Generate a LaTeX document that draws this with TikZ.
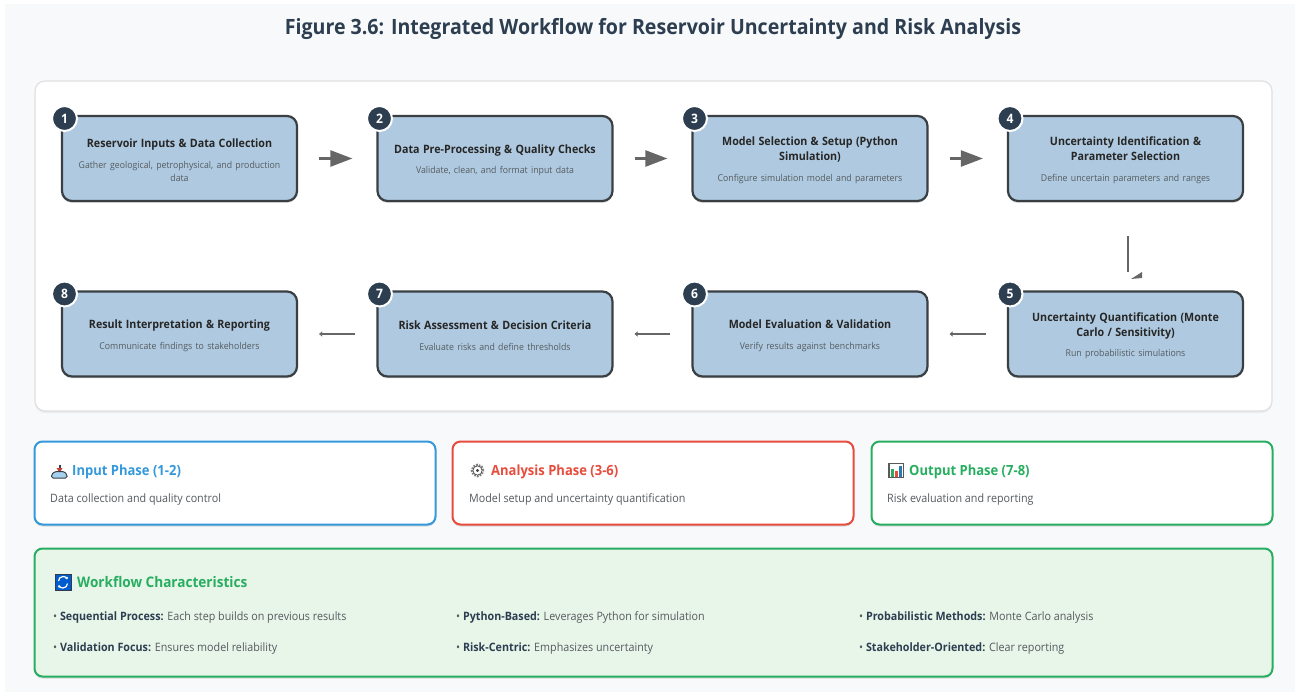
\documentclass[tikz,border=0pt]{standalone}
\usepackage{fontspec}
\usepackage{tikz}
\usetikzlibrary{arrows.meta,shadows}
\setmainfont{Open Sans}[FakeStretch=0.93]

\definecolor{pagebg}{HTML}{F8F9FB}
\definecolor{navy}{HTML}{2C3E50}
\definecolor{stepblue}{HTML}{AFCAE0}
\definecolor{stepline}{HTML}{3A3F44}
\definecolor{arrowgray}{HTML}{666666}
\definecolor{descgray}{HTML}{555B60}
\definecolor{inblue}{HTML}{3498DB}
\definecolor{anred}{HTML}{E74C3C}
\definecolor{outgreen}{HTML}{27AE60}
\definecolor{charbg}{HTML}{E8F5E9}

\newcommand{\steptext}[2]{\rule{0pt}{12pt}{\fontsize{11.5}{15}\selectfont\bfseries #1}\\[8.5pt]{\fontsize{9.4}{13}\selectfont\color{descgray} #2}}

\begin{document}
\begin{tikzpicture}[x=1pt,y=-1pt,
  softshadow/.style={general shadow={shadow yshift=-2pt,fill=black,opacity=0.12}},
  stepbox/.style={draw=stepline,line width=2.2pt,fill=stepblue,rounded corners=10pt,minimum width=235pt,minimum height=85pt,text width=222pt,align=center,inner sep=0pt,text=black!85,softshadow},
  badge/.style={circle,draw=white,line width=2pt,fill=navy,text=white,minimum size=25pt,inner sep=0pt,font=\fontsize{13}{13}\selectfont\bfseries},
  nextarrow/.style={draw=arrowgray,line width=2.4pt,-{Triangle[length=22pt,width=16pt]}},
  backarrow/.style={draw=arrowgray,line width=2.6pt,-{Triangle[length=3pt,width=5pt]}},
  phasebox/.style={draw=#1,line width=2pt,fill=white,rounded corners=8pt,minimum width=401pt,minimum height=83pt,inner sep=0pt,softshadow},
  phasetitle/.style={text=#1,anchor=base west,inner sep=0pt,font=\fontsize{14}{15}\selectfont\bfseries},
  phasedesc/.style={text=descgray,anchor=base west,inner sep=0pt,font=\fontsize{11.55}{13}\selectfont},
  charitem/.style={text=descgray,anchor=base west,inner sep=0pt,font=\fontsize{11.55}{13}\selectfont}]

\useasboundingbox (0,0) rectangle (1301,692);
\fill[white] (0,0) rectangle (1301,692);
\fill[pagebg] (5,4) rectangle (1295,692);

\node (title) at (653,29) {\fontsize{21.07}{24}\selectfont\bfseries\color{navy} Figure 3.6: Integrated Workflow for Reservoir Uncertainty and Risk Analysis};

\node (panel) at (653.5,246) [draw=black!12,line width=1.2pt,fill=white,rounded corners=10pt,minimum width=1237pt,minimum height=330pt,inner sep=0pt,general shadow={shadow yshift=-2pt,fill=black,opacity=0.05}] {};

\node (s1) at (179.5,158.5) [stepbox] {\steptext{Reservoir Inputs \& Data Collection}{Gather geological, petrophysical, and production\\[1pt]data}};
\node (s2) at (495,158.5) [stepbox] {\steptext{Data Pre-Processing \& Quality Checks}{Validate, clean, and format input data}};
\node (s3) at (810,158.5) [stepbox] {\steptext{Model Selection \& Setup (Python\\[3pt]Simulation)}{Configure simulation model and parameters}};
\node (s4) at (1125.5,158.5) [stepbox] {\steptext{Uncertainty Identification \&\\[3pt]Parameter Selection}{Define uncertain parameters and ranges}};
\node (s5) at (1125.5,334) [stepbox] {\steptext{Uncertainty Quantification (Monte\\[3pt]Carlo / Sensitivity)}{Run probabilistic simulations}};
\node (s6) at (810,334) [stepbox] {\steptext{Model Evaluation \& Validation}{Verify results against benchmarks}};
\node (s7) at (495,334) [stepbox] {\steptext{Risk Assessment \& Decision Criteria}{Evaluate risks and define thresholds}};
\node (s8) at (179.5,334) [stepbox] {\steptext{Result Interpretation \& Reporting}{Communicate findings to stakeholders}};

\node (b1) at (64.5,118.5) [badge] {1};
\node (b2) at (379.5,118.5) [badge] {2};
\node (b3) at (694.5,118.5) [badge] {3};
\node (b4) at (1010,118.5) [badge] {4};
\node (b5) at (1010,294) [badge] {5};
\node (b6) at (694.5,294) [badge] {6};
\node (b7) at (379.5,294) [badge] {7};
\node (b8) at (64.5,294) [badge] {8};

\draw[nextarrow,shorten <=21pt,shorten >=24pt] (s1) -- (s2);
\draw[nextarrow,shorten <=21pt,shorten >=24pt] (s2) -- (s3);
\draw[nextarrow,shorten <=21pt,shorten >=24pt] (s3) -- (s4);
\draw[arrowgray,line width=2.4pt,shorten <=34pt,shorten >=18pt] ([xshift=2.5pt]s4.south) -- ([xshift=2.5pt]s5.north);
\fill[arrowgray] (1142,272) -- (1142,278) -- (1131,279) -- cycle;
\draw[backarrow,shorten <=21pt,shorten >=21pt] (s5) -- (s6);
\draw[backarrow,shorten <=21pt,shorten >=21pt] (s6) -- (s7);
\draw[backarrow,shorten <=21pt,shorten >=21pt] (s7) -- (s8);

\node (inbox) at (235,483) [phasebox=inblue] {};
\node (anbox) at (653,483) [phasebox=anred] {};
\node (outbox) at (1072,483) [phasebox=outgreen] {};

\fill[stepline] (58.5,464.5) rectangle (60.5,471);
\fill[anred!85!black] (56.5,468) -- (62.5,468) -- (59.5,473) -- cycle;
\draw[stepline,line width=1pt,fill=inblue!45,rounded corners=1.5pt] (51.5,478) -- (51.5,474.5) -- (55,471.5) -- (64,471.5) -- (67,474.5) -- (67,478) -- cycle;

\draw[gray,line width=2.5pt,dash pattern=on 1.6pt off 1.2pt] (477.5,470.5) circle (5.6pt);
\draw[black!70,line width=0.7pt,fill=white] (477.5,470.5) circle (4.6pt);
\fill[black!75] (477.5,470.5) circle (1.6pt);

\draw[black!65,line width=1.2pt,fill=white] (889,463.5) rectangle (903.5,477.5);
\fill[outgreen] (891,468.5) rectangle (893.5,476.5);
\fill[anred] (895,471) rectangle (897.5,476.5);
\fill[inblue!80!black] (899,465.5) rectangle (901.5,476.5);

\node (intitle) at (72,475) [phasetitle=inblue] {Input Phase (1-2)};
\node (indesc) at (50,502) [phasedesc] {Data collection and quality control};
\node (antitle) at (491,475) [phasetitle=anred] {Analysis Phase (3-6)};
\node (andesc) at (469,502) [phasedesc] {Model setup and uncertainty quantification};
\node (outtitle) at (909,475) [phasetitle=outgreen] {Output Phase (7-8)};
\node (outdesc) at (887,502) [phasedesc] {Risk evaluation and reporting};

\node (charbox) at (653.5,612.5) [draw=outgreen,line width=2pt,fill=charbg,rounded corners=8pt,minimum width=1238pt,minimum height=128pt,inner sep=0pt,softshadow] {};

\draw[navy,line width=0.8pt,fill=blue!55!cyan!80!black] (55,574.5) rectangle (71,590);
\draw[white,line width=1.2pt,-{Triangle[length=2pt,width=3pt]}] (58.5,581) arc[start angle=180,end angle=20,radius=4.5pt];
\draw[white,line width=1.2pt,-{Triangle[length=2pt,width=3pt]}] (67.5,583.5) arc[start angle=0,end angle=-160,radius=4.5pt];

\node (chartitle) at (77,587) [phasetitle=outgreen] {\fontsize{14.6}{15}\selectfont Workflow Characteristics};

\node (c1) at (53,620) [charitem] {• {\bfseries\color{navy} Sequential Process:} Each step builds on previous results};
\node (c2) at (456,620) [charitem] {• {\bfseries\color{navy} Python-Based:} Leverages Python for simulation};
\node (c3) at (859,620) [charitem] {• {\bfseries\color{navy} Probabilistic Methods:} Monte Carlo analysis};
\node (c4) at (53,651) [charitem] {• {\bfseries\color{navy} Validation Focus:} Ensures model reliability};
\node (c5) at (456,651) [charitem] {• {\bfseries\color{navy} Risk-Centric:} Emphasizes uncertainty};
\node (c6) at (859,651) [charitem] {• {\bfseries\color{navy} Stakeholder-Oriented:} Clear reporting};

\end{tikzpicture}
\end{document}
